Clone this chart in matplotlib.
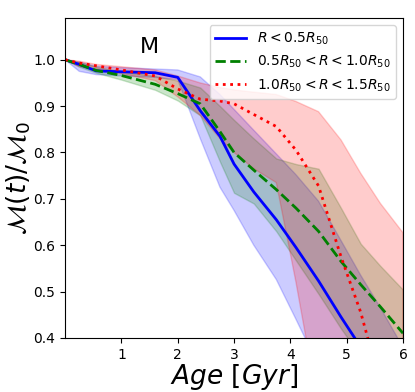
import matplotlib
matplotlib.use("Agg")
import matplotlib.pyplot as plt
import numpy as np

# ages (Gyr) shared by all curves
ages = [0, 0.25, 0.55, 1.0, 1.6, 2.0, 2.4, 2.75, 3.0, 3.35, 3.75, 4.1, 4.5, 4.9, 5.25, 5.6, 6.0]

# R < 0.5 R50
inner_med = [1.0, 0.99, 0.976, 0.974, 0.972, 0.962, 0.89, 0.835, 0.775, 0.715, 0.655, 0.595, 0.523, 0.445, 0.38, 0.31, 0.23]
inner_hi = [1.0, 0.995, 0.986, 0.983, 0.98, 0.978, 0.963, 0.925, 0.893, 0.848, 0.797, 0.752, 0.695, 0.61, 0.535, 0.465, 0.38]
inner_lo = [1.0, 0.975, 0.968, 0.965, 0.962, 0.957, 0.83, 0.725, 0.675, 0.60, 0.526, 0.44, 0.34, 0.25, 0.18, 0.12, 0.05]

# 0.5 R50 < R < 1.0 R50
mid_med = [1.0, 0.99, 0.977, 0.966, 0.947, 0.927, 0.905, 0.845, 0.80, 0.762, 0.72, 0.68, 0.63, 0.565, 0.515, 0.467, 0.41]
mid_hi = [1.0, 0.995, 0.985, 0.975, 0.965, 0.955, 0.94, 0.90, 0.87, 0.83, 0.787, 0.775, 0.765, 0.68, 0.603, 0.555, 0.504]
mid_lo = [1.0, 0.985, 0.972, 0.957, 0.935, 0.912, 0.88, 0.78, 0.713, 0.69, 0.63, 0.567, 0.495, 0.42, 0.36, 0.30, 0.23]

# 1.0 R50 < R < 1.5 R50
out_med = [1.0, 0.993, 0.987, 0.978, 0.965, 0.937, 0.915, 0.911, 0.905, 0.882, 0.856, 0.805, 0.728, 0.575, 0.455, 0.30, 0.2]
out_hi = [1.0, 0.997, 0.99, 0.985, 0.978, 0.965, 0.95, 0.94, 0.935, 0.93, 0.925, 0.91, 0.888, 0.827, 0.755, 0.69, 0.627]
out_lo = [1.0, 0.985, 0.98, 0.97, 0.955, 0.92, 0.88, 0.83, 0.80, 0.765, 0.735, 0.52, 0.25, 0.15, 0.1, 0.05, 0.0]

labels = [r'$R < 0.5R_{50}$', r'$0.5R_{50} < R < 1.0R_{50}$', r'$1.0R_{50} < R < 1.5R_{50}$']

fig = plt.figure(figsize=(4.15, 3.92), dpi=100)
ax = fig.add_axes([0.157, 0.138, 0.814, 0.816])

ax.fill_between(ages, inner_lo, inner_hi, color='blue', alpha=0.2)
ax.fill_between(ages, mid_lo, mid_hi, color='green', alpha=0.2)
ax.fill_between(ages, out_lo, out_hi, color='red', alpha=0.2)

ax.plot(ages, inner_med, color='blue', ls='-', lw=2, label=labels[0])
ax.plot(ages, mid_med, color='green', ls='--', lw=2, label=labels[1])
ax.plot(ages, out_med, color='red', ls=':', lw=2, label=labels[2])

ax.text(1.5, 1.028, 'M', fontsize=16, ha='center', va='center')

ax.set_xlim(0, 6)
ax.set_ylim(0.4, 1.09)
ax.set_xticks([1, 2, 3, 4, 5, 6])
ax.set_yticks([0.4, 0.5, 0.6, 0.7, 0.8, 0.9, 1.0])
ax.tick_params(labelsize=10)
ax.set_xlabel(r'$Age\ [Gyr]$', fontsize=19, labelpad=0)
ax.set_ylabel(r'$\mathcal{M}(t)/\mathcal{M}_0$', fontsize=19, labelpad=0)
ax.legend(loc='upper right', fontsize=10, handlelength=2.2)

fig.savefig('out.png', dpi=100)
